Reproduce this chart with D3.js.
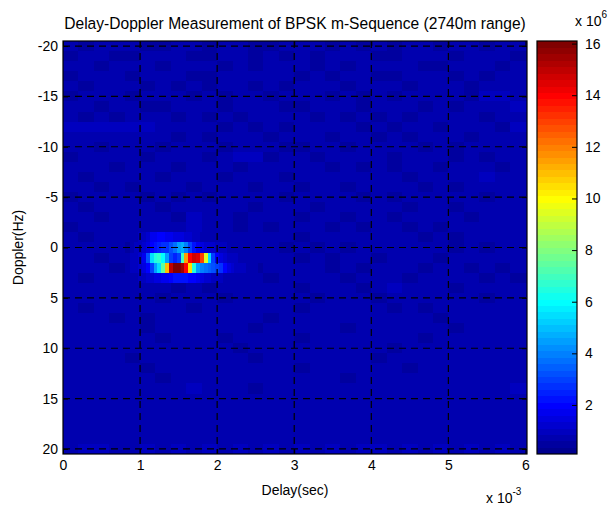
<!DOCTYPE html>
<html><head><meta charset="utf-8">
<script src="https://cdn.jsdelivr.net/npm/d3@7"></script>
<style>
html,body{margin:0;padding:0;background:#fff;}
svg text{font-family:"Liberation Sans",Arial,sans-serif;fill:#000;}
</style></head><body>
<svg id="chart" width="614" height="506"></svg>
<script>
// ---------------- data ----------------
const title = "Delay-Doppler Measurement of BPSK m-Sequence (2740m range)";
const xLabel = "Delay(sec)";
const yLabel = "Doppler(Hz)";
const delayTicks = [0, 1, 2, 3, 4, 5, 6];            // x 10^-3 s
const dopplerTicks = [-20, -15, -10, -5, 0, 5, 10, 15, 20];
const colorTicks = [2, 4, 6, 8, 10, 12, 14, 16];      // x 10^6
const colorRange = [0.1, 16.1];                       // x 10^6

const dopplerBins = [-20,-19,-18,-17,-16,-15,-14,-13,-12,-11,-10,-9,-8,-7,-6,-5,-4,-3,-2,-1,
  0,1,2,3,4,5,6,7,8,9,10,11,12,13,14,15,16,17,18,19,20];
const bgDelayBins = [0,0.2,0.4,0.6,0.8,1.0,1.2,1.4,1.6,1.8,2.0,2.2,2.4,2.6,2.8,
  3.0,3.2,3.4,3.6,3.8,4.0,4.2,4.4,4.6,4.8,5.0,5.2,5.4,5.6,5.8]; // x 10^-3 s
// background noise level per cell, digit d means (0.2 + 0.12 d) x 10^6
const bgLevels = [
  "434543354245334543435345344354",
  "345334453354243534543354435443",
  "453445345435354425345543354534",
  "344534453345445353443345435345",
  "435543534354353545354434543455",
  "354435443435434453435345453674",
  "443543354534543345534453534546",
  "534354435353445534353435445345",
  "676666544434343545434354354436",
  "455545435354534453543435443545",
  "543454354435453345345543534454",
  "354543445346634534454354435345",
  "445354534453545453534345354534",
  "534445345534443545445534445654",
  "453534453445354354354453534545",
  "345453534354443445535354445354",
  "534545345545354534454435534545",
  "453454436553445354345354453554",
  "344545556553534453534535345455",
  "435443567654454345445453534545",
  "544535346565453534354545435354",
  "453454345435454353543454354545",
  "545354453544345453535453453534",
  "434545355454434545345534545353",
  "545454435345454354534645435455",
  "454545354534545435453454545345",
  "535454453545454354545353454554",
  "454353545454535445454545345455",
  "545453454545345545345454535545",
  "454545354535454354545453454554",
  "545454545453545454545354545455",
  "454535454545354545453545454545",
  "545453545454545345454534545455",
  "454545354545454545354545454545",
  "455454546545354545454545545456",
  "545455454555454545545454545455",
  "454545454545545454554545454545",
  "545455454545454555454545455455",
  "555454545545455454545545455555",
  "455545454554545545455455545545",
  "566556565656565656566565656565"
];
// target region, fine delay bins (x 10^-3 s) and values (x 10^6)
const hotDelays = [0.90,0.95,1.00,1.05,1.10,1.15,1.20,1.25,1.30,1.35,1.40,1.45,1.50,1.55,1.60,
  1.65,1.70,1.75,1.80,1.85,1.90,1.95,2.00,2.05,2.10,2.15,2.20,2.25,2.30,2.35,2.40,2.45,2.50];
const hotDopplers = [-1, 0, 1, 2, 3];
const hotM1 = [0.8,0.8,0.9,1.0,1.2,1.6,1.8,1.9,1.9,1.8,1.6,1.5,1.5,1.4,1.2,1.1,1.0,0.9,0.8,0.8,
  0.8,0.8,0.8,0.8,0.8,0.8,0.8,0.8,0.8,0.8,0.8,0.8,0.8];
const hot0 = [0.8,0.9,1.0,1.2,1.5,1.9,2.2,2.4,2.6,2.8,3.1,3.7,4.4,4.6,4.0,3.0,2.3,1.8,1.5,1.3,
  1.2,1.1,1.0,0.9,0.9,0.8,0.8,0.8,0.8,0.8,0.8,0.8,0.8];
const hot1 = [0.9,1.0,1.2,1.8,3.2,5.5,6.5,6.6,6.0,4.5,3.0,2.5,3.0,7.0,11.5,14.0,14.6,14.5,13.0,9.5,
  5.5,3.0,1.9,1.4,1.1,1.0,0.9,0.9,0.8,0.8,0.8,0.8,0.8];
const hot2 = [0.9,1.0,1.1,1.4,2.0,3.0,4.5,5.5,7.5,11.0,15.0,16.0,16.0,15.5,14.0,10.5,6.5,4.5,4.0,3.8,
  3.5,3.2,3.0,2.6,2.0,1.5,1.2,1.0,0.9,0.9,0.8,0.8,0.8];
const hot3 = [0.8,0.8,0.9,1.0,1.1,1.3,1.4,1.5,1.6,1.7,1.9,2.2,2.3,2.3,2.2,2.0,1.9,1.7,1.5,1.3,
  1.1,1.0,0.9,0.9,0.8,0.8,0.8,0.8,0.8,0.8,0.8,0.8,0.8];
const hotValues = [hotM1, hot0, hot1, hot2, hot3];

// ---------------- colormap (MATLAB jet, 64 levels) ----------------
function jetU(k){ if(k<1||k>47) return 0; if(k<=16) return k/16; if(k<=31) return 1; return (48-k)/16; }
const jet = d3.range(1,65).map(i => d3.rgb(255*jetU(i-24), 255*jetU(i-8), 255*jetU(i+8)).toString());
function colorOf(v){
  let idx = Math.floor((v - colorRange[0]) / (colorRange[1] - colorRange[0]) * 64);
  idx = Math.max(0, Math.min(63, idx));
  return jet[idx];
}

// ---------------- layout ----------------
const svg = d3.select("#chart");
const P = {left:63, right:527, top:41, bottom:454};
const x = d3.scaleLinear().domain([0, 6.02]).range([P.left, P.right]);
const y = d3.scaleLinear().domain([-20.5, 20.5]).range([P.top, P.bottom]);
const CB = {left:537, right:577};
const cy = d3.scaleLinear().domain(colorRange).range([P.bottom, P.top]);
const FS = 14;

// background cells
const bgCells = [];
dopplerBins.forEach((d, r) => {
  bgDelayBins.forEach((t, j) => {
    const v = 0.2 + 0.12 * (+bgLevels[r][j]);
    const t1 = j < bgDelayBins.length - 1 ? bgDelayBins[j+1] : x.domain()[1];
    bgCells.push({d, t0:t, t1, v});
  });
});
const gImg = svg.append("g");
gImg.selectAll("rect.bg").data(bgCells).join("rect").attr("class","bg")
  .attr("x", c => x(c.t0)).attr("width", c => x(c.t1) - x(c.t0) + 0.4)
  .attr("y", c => y(c.d - 0.5)).attr("height", c => y(c.d + 0.5) - y(c.d - 0.5) + 0.4)
  .attr("fill", c => colorOf(c.v)).attr("shape-rendering","crispEdges");

const hotCells = [];
hotDopplers.forEach((d, r) => {
  hotDelays.forEach((t, j) => hotCells.push({d, t, v: hotValues[r][j]}));
});
gImg.selectAll("rect.hot").data(hotCells).join("rect").attr("class","hot")
  .attr("x", c => x(c.t - 0.025)).attr("width", c => x(c.t + 0.025) - x(c.t - 0.025) + 0.4)
  .attr("y", c => y(c.d - 0.5)).attr("height", c => y(c.d + 0.5) - y(c.d - 0.5) + 0.4)
  .attr("fill", c => colorOf(c.v)).attr("shape-rendering","crispEdges");

// grid (dashed)
const gGrid = svg.append("g").attr("stroke","#000").attr("stroke-width",1.2).attr("stroke-dasharray","7,5");
gGrid.selectAll("line.gx").data(delayTicks.slice(1, -1)).join("line")
  .attr("x1", d => x(d)).attr("x2", d => x(d)).attr("y1", P.top).attr("y2", P.bottom);
gGrid.selectAll("line.gy").data(dopplerTicks).join("line")
  .attr("y1", d => y(d)).attr("y2", d => y(d)).attr("x1", P.left).attr("x2", P.right);

// axes
const fmt = d3.format("d");
const axB = svg.append("g").attr("transform",`translate(0,${P.bottom})`)
  .call(d3.axisBottom(x).tickValues(delayTicks).tickFormat(fmt).tickSize(-5).tickPadding(6));
const axT = svg.append("g").attr("transform",`translate(0,${P.top})`)
  .call(d3.axisTop(x).tickValues(delayTicks).tickFormat("").tickSize(-5));
const axL = svg.append("g").attr("transform",`translate(${P.left},0)`)
  .call(d3.axisLeft(y).tickValues(dopplerTicks).tickFormat(fmt).tickSize(-5).tickPadding(5));
const axR = svg.append("g").attr("transform",`translate(${P.right},0)`)
  .call(d3.axisRight(y).tickValues(dopplerTicks).tickFormat("").tickSize(-5));
[axB, axT, axL, axR].forEach(a => {
  a.select(".domain").remove();
  a.selectAll("text").attr("font-size", FS).attr("font-family", '"Liberation Sans",Arial,sans-serif');
});
axL.selectAll("text").text(d => d < 0 ? "-" + Math.abs(d) : d);

svg.append("rect").attr("x",P.left).attr("y",P.top).attr("width",P.right-P.left).attr("height",P.bottom-P.top)
  .attr("fill","none").attr("stroke","#000").attr("stroke-width",1.2);

// colorbar
const bands = d3.range(64).map(k => ({
  v0: colorRange[0] + k * (colorRange[1]-colorRange[0]) / 64,
  v1: colorRange[0] + (k+1) * (colorRange[1]-colorRange[0]) / 64, k}));
svg.append("g").selectAll("rect").data(bands).join("rect")
  .attr("x", CB.left).attr("width", CB.right - CB.left)
  .attr("y", b => cy(b.v1)).attr("height", b => cy(b.v0) - cy(b.v1) + 0.4)
  .attr("fill", b => jet[b.k]).attr("shape-rendering","crispEdges");
const axC = svg.append("g").attr("transform",`translate(${CB.right},0)`)
  .call(d3.axisRight(cy).tickValues(colorTicks).tickFormat(fmt).tickSize(-5).tickPadding(8));
axC.select(".domain").remove();
axC.selectAll("text").attr("font-size", FS);
svg.append("rect").attr("x",CB.left).attr("y",P.top).attr("width",CB.right-CB.left).attr("height",P.bottom-P.top)
  .attr("fill","none").attr("stroke","#000").attr("stroke-width",1.2);

// titles and labels
const tt = svg.append("text").attr("x", (P.left+P.right)/2).attr("y", 29).attr("text-anchor","middle")
  .attr("font-size", 14).text(title);
const tl = tt.node().getComputedTextLength();
tt.attr("font-size", Math.min(16, 14 * 462 / tl));
svg.append("text").attr("x", (P.left+P.right)/2).attr("y", 495).attr("text-anchor","middle")
  .attr("font-size", FS).text(xLabel);
svg.append("text").attr("transform", `translate(23,${(P.top+P.bottom)/2}) rotate(-90)`).attr("text-anchor","middle")
  .attr("font-size", FS).text(yLabel);

// exponent labels
const e1 = svg.append("text").attr("x", 486).attr("y", 503).attr("font-size", FS);
e1.append("tspan").text("x 10");
e1.append("tspan").attr("dy", -8).attr("font-size", 10).text("-3");
const e2 = svg.append("text").attr("x", 575).attr("y", 26).attr("font-size", FS);
e2.append("tspan").text("x 10");
e2.append("tspan").attr("dy", -8).attr("font-size", 10).text("6");
</script>
</body></html>
